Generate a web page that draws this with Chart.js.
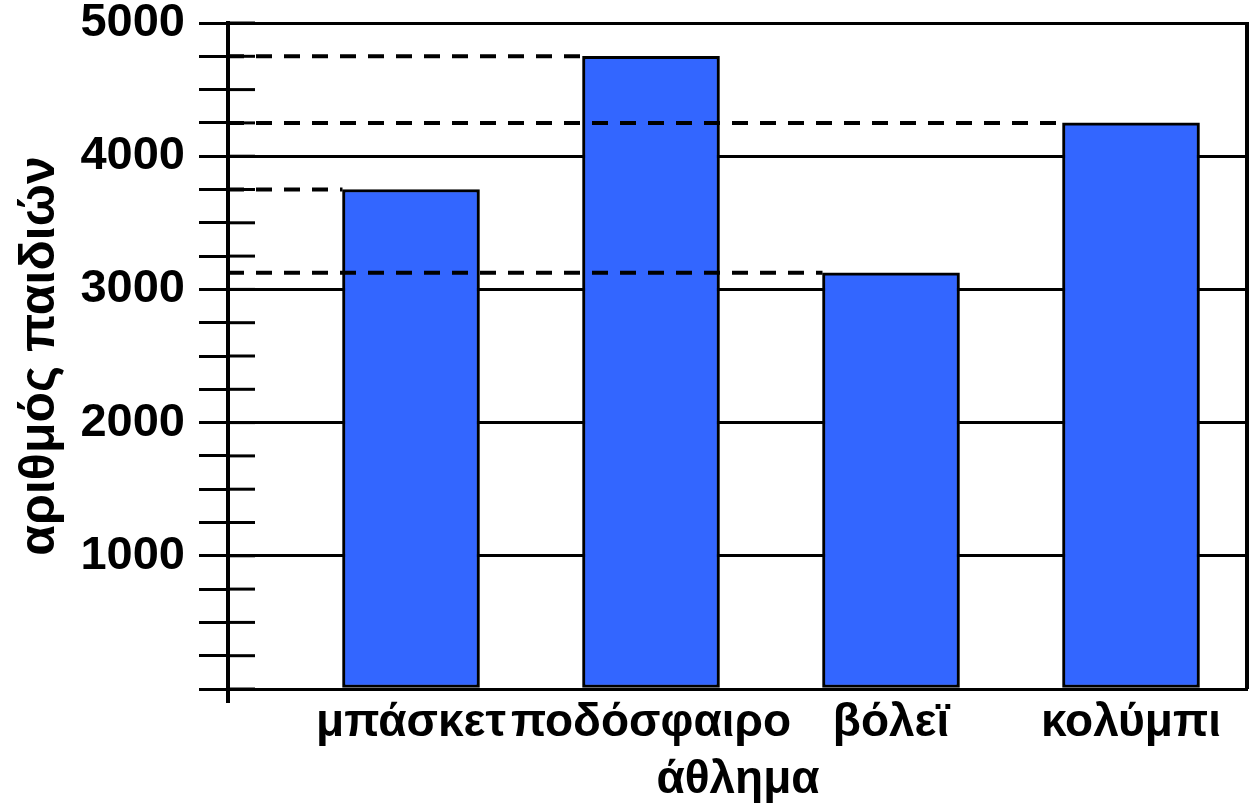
<!DOCTYPE html>
<html>
<head>
<meta charset="utf-8">
<script src="https://cdn.jsdelivr.net/npm/chart.js@4/dist/chart.umd.min.js"></script>
<style>
  body { margin: 0; background: #fff; }
</style>
</head>
<body>
<canvas id="sportsChart" width="1250" height="803"></canvas>
<script>
// data
const sports = ['μπάσκετ', 'ποδόσφαιρο', 'βόλεϊ', 'κολύμπι'];
const children = [3750, 4750, 3125, 4250];
const yLabels = [1000, 2000, 3000, 4000, 5000];
const yMax = 5000;
const yMinorStep = 250;

const FONT = '"Liberation Sans", Arial, sans-serif';

// inner halves of the y ticks, axis stub below zero, right frame, dashed guides
const refLines = {
  id: 'refLines',
  afterDatasetsDraw(chart) {
    const ctx = chart.ctx;
    const area = chart.chartArea;
    const y = chart.scales.y;
    ctx.save();
    ctx.strokeStyle = '#000';

    ctx.lineWidth = 3;
    y.ticks.forEach(function (t) {
      const py = y.getPixelForValue(t.value);
      ctx.beginPath();
      ctx.moveTo(area.left, py);
      ctx.lineTo(area.left + 27, py);
      ctx.stroke();
    });

    ctx.lineWidth = 4;
    ctx.beginPath();
    ctx.moveTo(area.left, area.bottom);
    ctx.lineTo(area.left, area.bottom + 14);
    ctx.moveTo(area.right - 1, area.top - 1);
    ctx.lineTo(area.right - 1, area.bottom);
    ctx.stroke();

    ctx.setLineDash([16, 12]);
    chart.getDatasetMeta(0).data.forEach(function (bar) {
      ctx.beginPath();
      ctx.moveTo(area.left, bar.y);
      ctx.lineTo(bar.x - bar.width / 2, bar.y);
      ctx.stroke();
    });
    ctx.restore();
  }
};

const ctx = document.getElementById('sportsChart');

new Chart(ctx, {
  type: 'bar',
  data: {
    datasets: [{
      data: sports.map((s, i) => ({ x: i, y: children[i] })),
      backgroundColor: '#3366ff',
      borderColor: '#000',
      borderWidth: 3,
      borderSkipped: false,
      barThickness: 137
    }]
  },
  options: {
    responsive: false,
    animation: false,
    layout: {
      autoPadding: false,
      padding: { top: 23, right: 2, left: 0, bottom: 0 }
    },
    plugins: {
      legend: { display: false },
      tooltip: { enabled: false }
    },
    scales: {
      x: {
        type: 'linear',
        offset: false,
        min: -0.7625,
        max: 3.4875,
        afterFit: function (scale) {
          scale.height = 114;
          scale.paddingLeft = 0;
          scale.paddingRight = 0;
        },
        afterBuildTicks: function (scale) {
          scale.ticks = sports.map((s, i) => ({ value: i }));
        },
        grid: { display: false, drawTicks: false },
        border: { display: false },
        ticks: {
          autoSkip: false,
          maxRotation: 0,
          padding: 11,
          color: '#000',
          font: { family: FONT, size: 46, weight: 'bold', lineHeight: 1 },
          callback: function (v) { return sports[v]; }
        },
        title: {
          display: true,
          text: 'άθλημα',
          color: '#000',
          padding: 0,
          font: { family: FONT, size: 46, weight: 'bold', lineHeight: 1 }
        }
      },
      y: {
        min: 0,
        max: yMax,
        afterFit: function (scale) {
          scale.width = 228;
          scale.paddingTop = 0;
          scale.paddingBottom = 0;
        },
        grid: {
          color: function (c) { return c.tick && c.tick.value % 1000 === 0 ? '#000' : 'rgba(0,0,0,0)'; },
          tickColor: '#000',
          lineWidth: 3,
          tickLength: 29
        },
        border: { display: true, color: '#000', width: 4 },
        ticks: {
          stepSize: yMinorStep,
          autoSkip: false,
          padding: 14,
          color: '#000',
          font: { family: FONT, size: 47, weight: 'bold', lineHeight: 1 },
          callback: function (v) { return yLabels.includes(v) ? String(v) : ''; }
        },
        title: {
          display: true,
          text: 'αριθμός παιδιών',
          color: '#000',
          padding: { top: 15, bottom: 0 },
          font: { family: FONT, size: 50, weight: 'bold', lineHeight: 1 }
        }
      }
    }
  },
  plugins: [refLines]
});
</script>
</body>
</html>
